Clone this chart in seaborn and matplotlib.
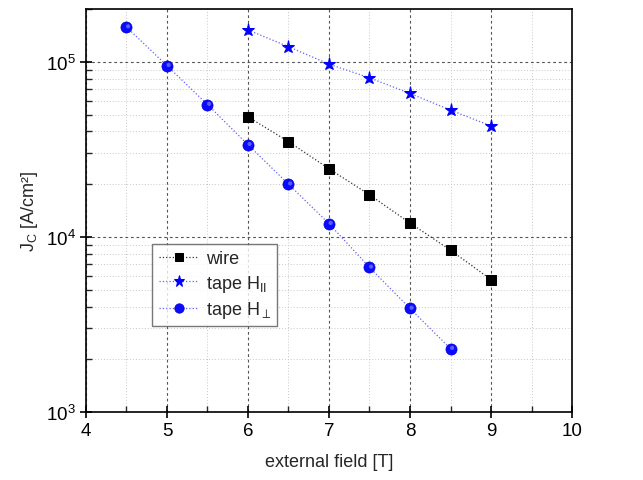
import matplotlib
matplotlib.use("Agg")
import matplotlib.pyplot as plt
import seaborn as sns
import pandas as pd
from matplotlib.ticker import LogLocator, MultipleLocator, NullFormatter

# Critical current density vs. external magnetic field
wire_field = [6.0, 6.5, 7.0, 7.5, 8.0, 8.5, 9.0]
wire_jc = [4.85e4, 3.5e4, 2.45e4, 1.74e4, 1.2e4, 8.4e3, 5.7e3]

par_field = [6.0, 6.5, 7.0, 7.5, 8.0, 8.5, 9.0]
par_jc = [1.52e5, 1.22e5, 9.7e4, 8.1e4, 6.6e4, 5.3e4, 4.3e4]

perp_field = [4.5, 5.0, 5.5, 6.0, 6.5, 7.0, 7.5, 8.0, 8.5]
perp_jc = [1.58e5, 9.5e4, 5.7e4, 3.36e4, 2.0e4, 1.19e4, 6.7e3, 3.9e3, 2.3e3]

sns.set_style("ticks")
plt.rcParams["font.family"] = ["Liberation Sans", "DejaVu Sans"]
plt.rcParams["mathtext.fontset"] = "custom"
plt.rcParams["mathtext.rm"] = "Liberation Sans"
plt.rcParams["mathtext.it"] = "Liberation Sans"

fig = plt.figure(figsize=(6.43, 4.81), dpi=100)
ax = fig.add_axes([0.1337, 0.1414, 0.7559, 0.8376])

wire_df = pd.DataFrame({"B": wire_field, "Jc": wire_jc})
par_df = pd.DataFrame({"B": par_field, "Jc": par_jc})
perp_df = pd.DataFrame({"B": perp_field, "Jc": perp_jc})

sns.lineplot(data=wire_df, x="B", y="Jc", ax=ax, color="#333333", linestyle=":",
             linewidth=0.9, marker="s", markersize=6.5, markeredgecolor="black",
             markerfacecolor="black", label="wire", zorder=3)
sns.lineplot(data=par_df, x="B", y="Jc", ax=ax, color="#6060ff", linestyle=":",
             linewidth=0.9, marker="*", markersize=9.5, markeredgecolor="#0000ff",
             markerfacecolor="#0000ff", label=r"tape H$_{\rm II}$", zorder=3)
sns.lineplot(data=perp_df, x="B", y="Jc", ax=ax, color="#6060ff", linestyle=":",
             linewidth=0.9, marker="o", markersize=8, markeredgecolor="#0000d0",
             markeredgewidth=0.5, markerfacecolor="#0a0aff",
             label=r"tape H$_{\perp}$", zorder=3)
# soft sphere highlight on the round markers
ax.scatter(perp_df["B"] + 0.02, perp_df["Jc"] * 1.01, s=9, color="#7070ff",
           edgecolors="none", alpha=0.8, zorder=4)

ax.set_yscale("log")
ax.set_xlim(4, 10)
ax.set_ylim(1e3, 2e5)

ax.xaxis.set_major_locator(MultipleLocator(1))
ax.xaxis.set_minor_locator(MultipleLocator(0.5))
ax.yaxis.set_major_locator(LogLocator(base=10, numticks=10))
ax.yaxis.set_minor_locator(LogLocator(base=10, subs=range(2, 10), numticks=20))
ax.yaxis.set_minor_formatter(NullFormatter())

ax.grid(which="major", linestyle=(0, (2.5, 2.5)), color="#555555", linewidth=0.8)
ax.grid(which="minor", linestyle=(0, (1, 2)), color="#c8c8c8", linewidth=0.7)
ax.set_axisbelow(True)

ax.tick_params(which="major", direction="inout", length=8, width=1.2,
               labelsize=13.5, colors="black")
ax.tick_params(which="minor", direction="in", length=4, width=1.0)
for s in ax.spines.values():
    s.set_linewidth(1.2)
    s.set_color("black")
    s.set_visible(True)

ax.set_xlabel("external field [T]", fontsize=13, labelpad=10)
ax.set_ylabel(r"J$_{\rm C}$ [A/cm²]", fontsize=13, labelpad=4)

leg = ax.legend(loc="lower left", bbox_to_anchor=(0.118, 0.19), fontsize=13,
                frameon=True, fancybox=False, edgecolor="#555555",
                handlelength=2.2, handletextpad=0.4, borderpad=0.35,
                labelspacing=0.3, markerscale=0.85)
leg.get_frame().set_linewidth(1.0)

fig.savefig("out.png", dpi=100)
